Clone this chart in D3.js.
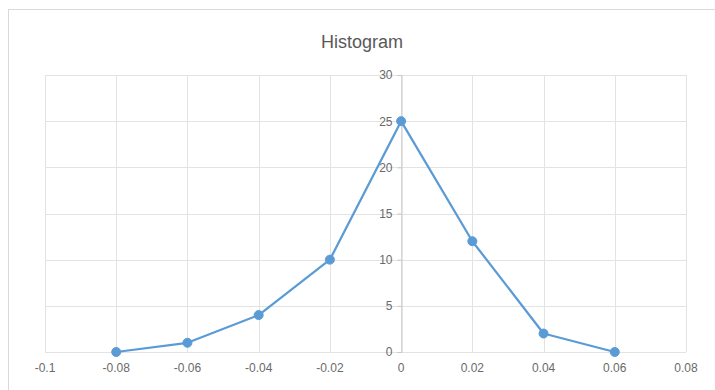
<!DOCTYPE html>
<html>
<head>
<meta charset="utf-8">
<script src="https://cdn.jsdelivr.net/npm/d3@7"></script>
<style>
  body { margin: 0; background: #fff; }
  text { font-family: "Liberation Sans", Arial, sans-serif; }
</style>
</head>
<body>
<div id="chart"></div>
<script>
// histogram bins (x) and counts (y)
const binCenters = [-0.08, -0.06, -0.04, -0.02, 0, 0.02, 0.04, 0.06];
const counts = [0, 1, 4, 10, 25, 12, 2, 0];
const xTicks = [-0.1, -0.08, -0.06, -0.04, -0.02, 0, 0.02, 0.04, 0.06, 0.08];
const yTicks = [0, 5, 10, 15, 20, 25, 30];

const width = 715, height = 390;
const plot = { left: 45, right: 686, top: 75, bottom: 352 };

const svg = d3.select('#chart')
    .append('svg')
    .attr('width', width)
    .attr('height', height);

// chart area outline
svg.append('rect')
    .attr('x', 8.5).attr('y', 9.5)
    .attr('width', 720).attr('height', 400)
    .attr('fill', '#fff')
    .attr('stroke', '#d9d9d9');

const x = d3.scaleLinear().domain([-0.1, 0.08]).range([plot.left, plot.right]);
const y = d3.scaleLinear().domain([0, 30]).range([plot.bottom, plot.top]);

// gridlines
svg.append('g')
    .selectAll('line.h')
    .data(yTicks)
    .enter()
    .append('line')
    .attr('x1', plot.left).attr('x2', plot.right)
    .attr('y1', d => Math.round(y(d)) + 0.5)
    .attr('y2', d => Math.round(y(d)) + 0.5)
    .attr('stroke', '#e3e3e3');

svg.append('g')
    .selectAll('line.v')
    .data(xTicks)
    .enter()
    .append('line')
    .attr('x1', d => Math.round(x(d)) + 0.5)
    .attr('x2', d => Math.round(x(d)) + 0.5)
    .attr('y1', plot.top).attr('y2', plot.bottom)
    .attr('stroke', '#e3e3e3');

// y axis crossing at x = 0
const yAxis = svg.append('g')
    .attr('transform', `translate(${Math.round(x(0)) + 0.5},0)`)
    .call(d3.axisLeft(y).tickValues(yTicks).tickSize(4).tickPadding(5));
yAxis.select('.domain').attr('stroke', '#c8c8c8');
yAxis.selectAll('.tick line').attr('stroke', '#c8c8c8');
yAxis.selectAll('.tick text')
    .attr('fill', '#6a6a6a')
    .style('font-size', '12px');

// x labels along the bottom (plain hyphen minus, as in the source)
svg.append('g')
    .selectAll('text')
    .data(xTicks)
    .enter()
    .append('text')
    .attr('x', d => x(d))
    .attr('y', 372)
    .attr('text-anchor', 'middle')
    .attr('fill', '#6a6a6a')
    .style('font-size', '12px')
    .text(d => String(+d.toFixed(2)));

// title
svg.append('text')
    .attr('x', 362)
    .attr('y', 48)
    .attr('text-anchor', 'middle')
    .attr('fill', '#595959')
    .style('font-size', '18px')
    .text('Histogram');

const points = binCenters.map((b, i) => ({ x: b, y: counts[i] }));

const line = d3.line()
    .x(d => x(d.x))
    .y(d => y(d.y));

svg.append('path')
    .datum(points)
    .attr('d', line)
    .attr('fill', 'none')
    .attr('stroke', '#5b9bd5')
    .attr('stroke-width', 2.25)
    .attr('stroke-linejoin', 'round');

svg.append('g')
    .selectAll('circle')
    .data(points)
    .enter()
    .append('circle')
    .attr('cx', d => x(d.x))
    .attr('cy', d => y(d.y))
    .attr('r', 4.5)
    .attr('fill', '#5b9bd5')
    .attr('stroke', '#5b9bd5')
    .attr('stroke-width', 1);
</script>
</body>
</html>
